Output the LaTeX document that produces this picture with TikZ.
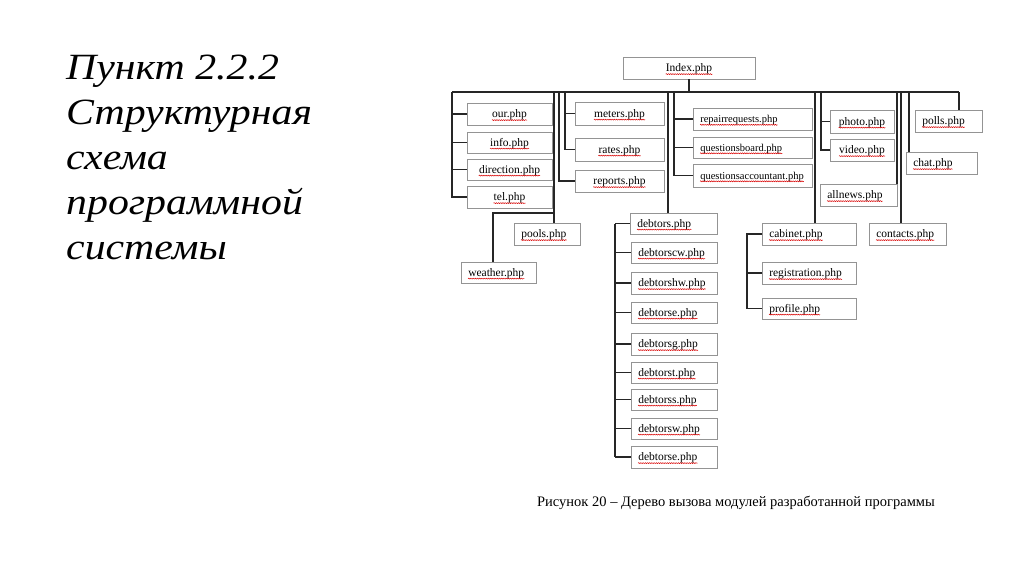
\documentclass[tikz,border=0pt]{standalone}
\usepackage{fontspec}
\setmainfont{Liberation Serif}
\newfontfamily\titlefont[FakeStretch=1.13]{Liberation Serif}
\usetikzlibrary{decorations.pathmorphing}
\definecolor{boxgray}{gray}{0.58}
\definecolor{linecol}{gray}{0.15}
\newcommand\boxfont{\fontsize{11.5}{13}\selectfont}
\newcommand\smallboxfont{\fontsize{10.5}{12}\selectfont}
\tikzset{
  box/.style={draw=boxgray, line width=0.9pt, inner sep=0pt, fill=white},
  lbl/.style={inner sep=0pt, font=\boxfont},
  lbls/.style={inner sep=0pt, font=\smallboxfont},
  conn/.style={draw=linecol, line width=1.3pt},
  wav/.style={draw=red!85!black, line width=0.5pt, decorate, decoration={snake, amplitude=0.5pt, segment length=2.2pt}},
  title/.style={anchor=base west, inner sep=0pt, font=\titlefont\fontsize{37}{42}\selectfont\itshape},
}
\newcommand\bxgen[5]{%
  \pgfmathsetmacro\bw{#4-#2}%
  \pgfmathsetmacro\bh{#5-#3}%
  \node[box, minimum width=\bw pt, minimum height=\bh pt] (#1) at ({(#2+#4)/2},{(#3+#5)/2}) {};%
}
\newcommand\bxc[6]{\bxgen{#1}{#2}{#3}{#4}{#5}%
  \node[lbl, anchor=base] (#1-t) at ([yshift=-3.8pt]#1.center) {#6};%
  \draw[wav] ([yshift=-2.3pt]#1-t.base west) -- ([yshift=-2.3pt]#1-t.base east);}
\newcommand\bxl[6]{\bxgen{#1}{#2}{#3}{#4}{#5}%
  \node[lbl, anchor=base west] (#1-t) at ([xshift=7.5pt,yshift=-3.8pt]#1.west) {#6};%
  \draw[wav] ([yshift=-2.3pt]#1-t.base west) -- ([yshift=-2.3pt]#1-t.base east);}
\newcommand\bxs[6]{\bxgen{#1}{#2}{#3}{#4}{#5}%
  \node[lbls, anchor=base west] (#1-t) at ([xshift=7.5pt,yshift=-3.5pt]#1.west) {#6};%
  \draw[wav] ([yshift=-2.3pt]#1-t.base west) -- ([yshift=-2.3pt]#1-t.base east);}
\begin{document}
\begin{tikzpicture}[x=1pt,y=-1pt]
\useasboundingbox[fill=white] (0,0) rectangle (1024,574);

% title
\node[title] (t1) at (66,79) {Пункт 2.2.2};
\node[title] (t2) at (66,124) {Структурная};
\node[title] (t3) at (66,169) {схема};
\node[title] (t4) at (66,214) {программной};
\node[title] (t5) at (66,259) {системы};

% coordinates for the bus and branches
\coordinate (busL) at (452,92);
\coordinate (busR) at (959,92);
\coordinate (pv) at (554,92);
\coordinate (wj) at (554,213);
\coordinate (mv) at (565,92);
\coordinate (rv) at (559,92);
\coordinate (dv) at (668,92);
\coordinate (dc) at (615,223);
\coordinate (qv) at (674,92);
\coordinate (cv) at (815,92);
\coordinate (cc) at (747,234);
\coordinate (phv) at (821,92);
\coordinate (av) at (897,92);
\coordinate (ctv) at (901,92);
\coordinate (chv) at (909,92);
\coordinate (plv) at (959,92);

% boxes
\bxc{Index}{623}{57}{755}{79}{Index.php}
\bxc{our}{467}{103}{552}{125}{our.php}
\bxc{info}{467}{132}{552}{153}{info.php}
\bxc{direction}{467}{159}{552}{180}{direction.php}
\bxc{tel}{467}{186}{552}{208}{tel.php}
\bxc{meters}{575}{102}{664}{125}{meters.php}
\bxc{rates}{575}{138}{664}{161}{rates.php}
\bxc{reports}{575}{170}{664}{192}{reports.php}
\bxl{pools}{514}{223}{580}{245}{pools.php}
\bxl{weather}{461}{262}{536}{283}{weather.php}
\bxs{repair}{693}{108}{812}{130}{repairrequests.php}
\bxs{qboard}{693}{137}{812}{158}{questionsboard.php}
\bxs{qacc}{693}{164}{812}{187}{questionsaccountant.php}
\bxc{photo}{830}{110}{894}{133}{photo.php}
\bxc{video}{830}{139}{894}{161}{video.php}
\bxl{allnews}{820}{184}{897}{206}{allnews.php}
\bxl{polls}{915}{110}{982}{132}{polls.php}
\bxl{chat}{906}{152}{977}{174}{chat.php}
\bxl{contacts}{869}{223}{946}{245}{contacts.php}
\bxl{cabinet}{762}{223}{856}{245}{cabinet.php}
\bxl{registration}{762}{262}{856}{284}{registration.php}
\bxl{profile}{762}{298}{856}{319}{profile.php}
\bxl{d1}{630}{213}{717}{234}{debtors.php}
\bxl{d2}{631}{242}{717}{263}{debtorscw.php}
\bxl{d3}{631}{272}{717}{294}{debtorshw.php}
\bxl{d4}{631}{302}{717}{323}{debtorse.php}
\bxl{d5}{631}{333}{717}{355}{debtorsg.php}
\bxl{d6}{631}{362}{717}{383}{debtorst.php}
\bxl{d7}{631}{389}{717}{410}{debtorss.php}
\bxl{d8}{631}{418}{717}{439}{debtorsw.php}
\bxl{d9}{631}{446}{717}{468}{debtorse.php}

% connectors
\draw[conn] (Index.south) -- (Index.south |- busL);
\draw[conn] (busL) -- (busR);
% left group
\draw[conn] (busL) |- (tel.west);
\foreach \n in {our,info,direction}{\draw[conn] (busL |- \n.west) -- (\n.west);}
% pools / weather
\draw[conn] (pv) -- (pv |- pools.north);
\draw[conn] (wj) -| ([xshift=-5.5pt]weather.north);
% meters / rates / reports
\draw[conn] (mv) |- (rates.west);
\draw[conn] (mv |- meters.west) -- (meters.west);
\draw[conn] (rv) |- (reports.west);
% debtors
\draw[conn] (dv) -- (dv |- d1.north);
\draw[conn] (dc |- d1.west) -- (dc |- d9.west);
\foreach \n in {d1,d2,d3,d4,d5,d6,d7,d8,d9}{\draw[conn] (dc |- \n.west) -- (\n.west);}
% questions
\draw[conn] (qv) |- (qacc.west);
\draw[conn] (qv |- repair.west) -- (repair.west);
\draw[conn] (qv |- qboard.west) -- (qboard.west);
% cabinet
\draw[conn] (cv) -- (cv |- cabinet.north);
\draw[conn] (cabinet.west) -- (cc) |- (profile.west);
\draw[conn] (cc |- registration.west) -- (registration.west);
% photo / video
\draw[conn] (phv) |- (video.west);
\draw[conn] (phv |- photo.west) -- (photo.west);
% allnews, contacts, chat, polls
\draw[conn] (av) -- (av |- allnews.north);
\draw[conn] (ctv) -- (ctv |- contacts.north);
\draw[conn] (chv) -- (chv |- chat.north);
\draw[conn] (plv) -- (plv |- polls.north);

% caption
\node[font=\fontsize{14.5}{17}\selectfont, inner sep=0pt] (cap) at (736,503) {Рисунок 20 – Дерево вызова модулей разработанной программы};
\end{tikzpicture}
\end{document}
